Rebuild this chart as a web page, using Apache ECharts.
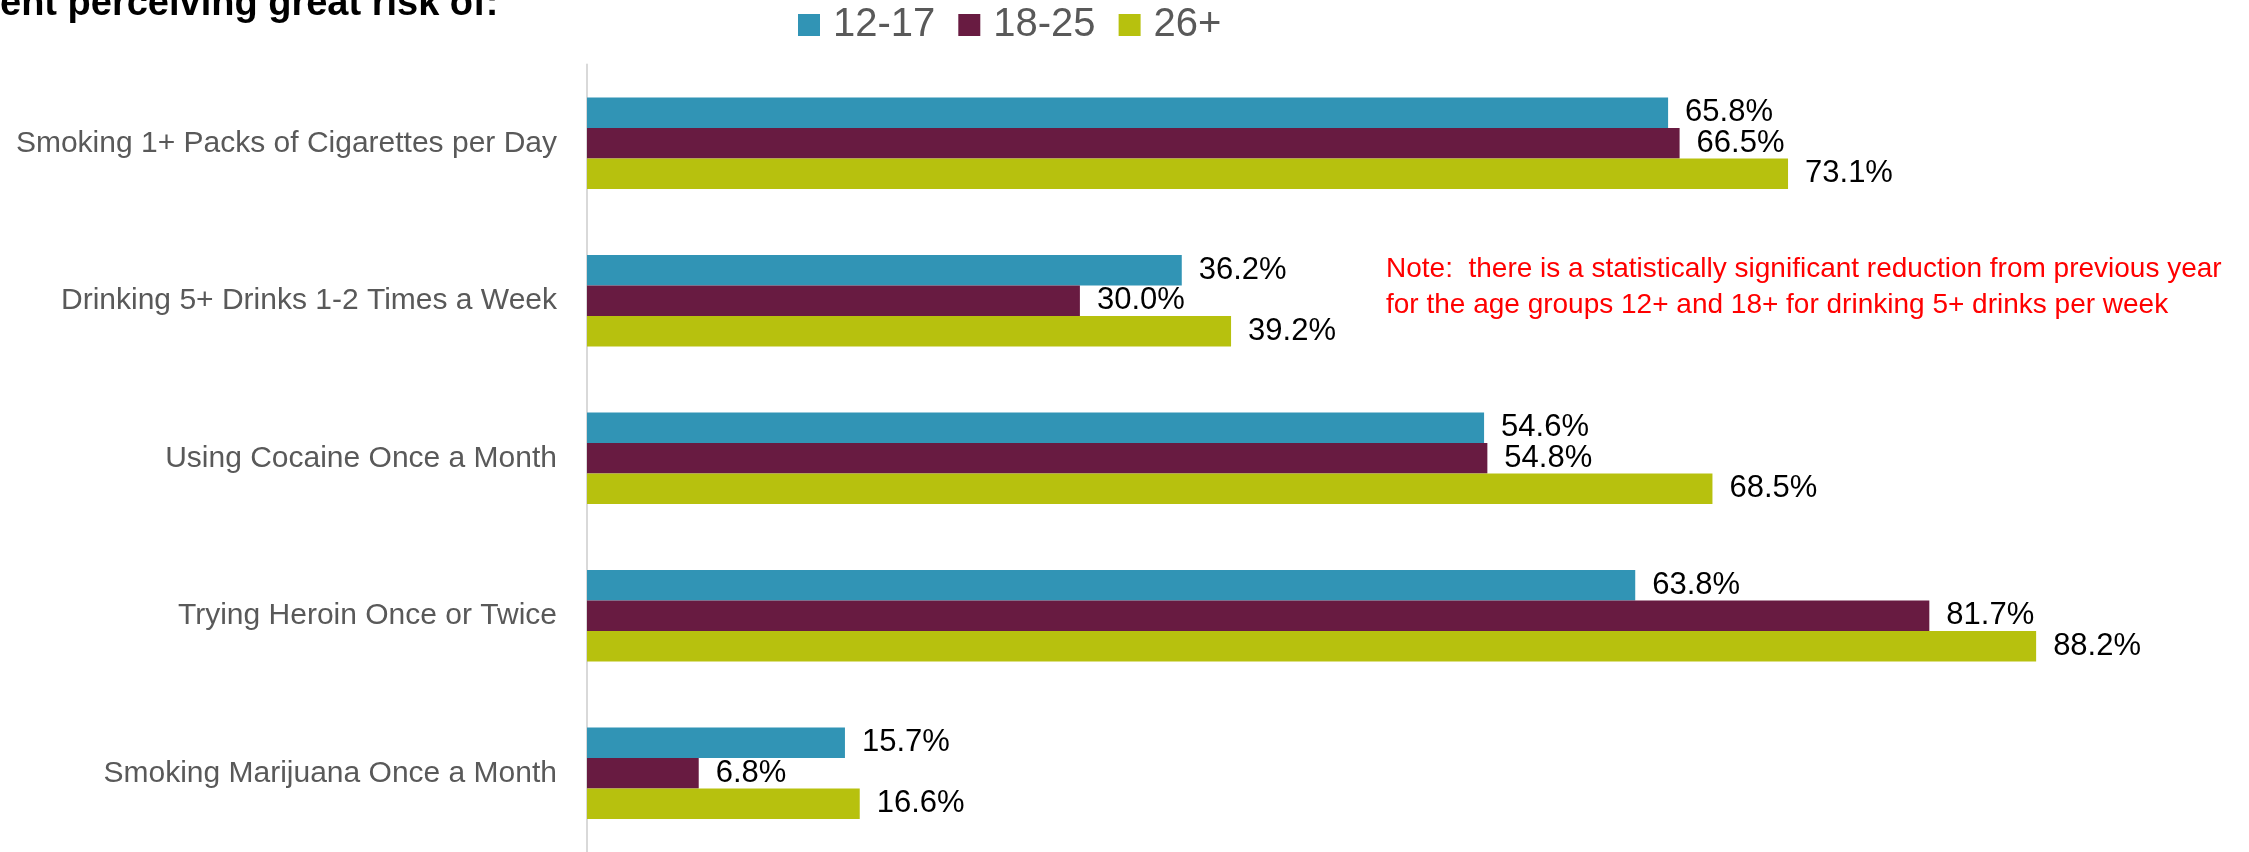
<!DOCTYPE html>
<html>
<head>
<meta charset="utf-8">
<script src="https://cdn.jsdelivr.net/npm/echarts@6/dist/echarts.min.js"></script>
<style>
html,body{margin:0;padding:0;background:#fff;}
#chart{width:2249px;height:852px;}
</style>
</head>
<body>
<div id="chart"></div>
<script>
var categories = [
  'Smoking 1+ Packs of Cigarettes per Day',
  'Drinking 5+ Drinks 1-2 Times a Week',
  'Using Cocaine Once a Month',
  'Trying Heroin Once or Twice',
  'Smoking Marijuana Once a Month'
];
var seriesNames = ['12-17', '18-25', '26+'];
var values1217 = [65.8, 36.2, 54.6, 63.8, 15.7];
var values1825 = [66.5, 30.0, 54.8, 81.7, 6.8];
var values26 = [73.1, 39.2, 68.5, 88.2, 16.6];
var colors = ['#3194B5', '#681B41', '#B7C10E'];
var titleText = 'ent perceiving great risk of:';
var noteText = 'Note:  there is a statistically significant reduction from previous year\nfor the age groups 12+ and 18+ for drinking 5+ drinks per week';

var FONT = '"Liberation Sans", Arial, sans-serif';
var chart = echarts.init(document.getElementById('chart'));

function makeSeries(name, data, color) {
  return {
    name: name,
    type: 'bar',
    data: data,
    barWidth: 30.5,
    barGap: '0%',
    itemStyle: { color: color },
    label: {
      show: true,
      position: 'right',
      distance: 17,
      fontFamily: FONT,
      fontSize: 31,
      color: '#000',
      formatter: function (p) { return p.value.toFixed(1) + '%'; }
    },
    emphasis: { disabled: true },
    animation: false
  };
}

chart.setOption({
  animation: false,
  color: colors,
  legend: {
    left: 793,
    top: 0,
    icon: 'rect',
    itemWidth: 22,
    itemHeight: 22,
    itemGap: 23,
    textStyle: {
      fontFamily: FONT,
      fontSize: 40,
      color: '#595959',
      padding: [0, 0, 0, 8]
    },
    data: seriesNames
  },
  grid: {
    left: 587,
    top: 64.5,
    width: 1643,
    height: 790.5,
    containLabel: false
  },
  xAxis: {
    type: 'value',
    min: 0,
    max: 100,
    show: false
  },
  yAxis: {
    type: 'category',
    inverse: true,
    data: categories,
    axisLine: { show: true, lineStyle: { color: '#d9d9d9', width: 2 } },
    axisTick: { show: false },
    axisLabel: {
      margin: 30,
      fontFamily: FONT,
      fontSize: 30,
      color: '#595959'
    },
    splitLine: { show: false }
  },
  graphic: [
    {
      type: 'text',
      left: 0,
      top: -14,
      style: {
        text: titleText,
        font: 'bold 38px ' + FONT,
        fill: '#000'
      }
    },
    {
      type: 'text',
      left: 1386,
      top: 251,
      style: {
        text: noteText,
        font: '28px ' + FONT,
        lineHeight: 36,
        fill: '#FF0000'
      }
    }
  ],
  series: [
    makeSeries(seriesNames[0], values1217, colors[0]),
    makeSeries(seriesNames[1], values1825, colors[1]),
    makeSeries(seriesNames[2], values26, colors[2])
  ]
});
</script>
</body>
</html>
